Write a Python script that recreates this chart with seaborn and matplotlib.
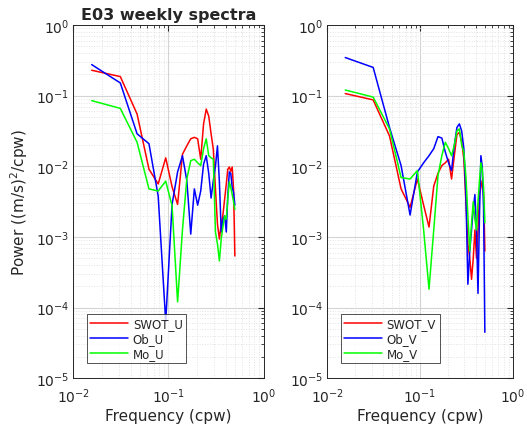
import numpy as np
import pandas as pd
import matplotlib
matplotlib.use("Agg")
import matplotlib.pyplot as plt
import seaborn as sns

# frequency grid (cpw)
freq = np.arange(1, 33) / 64.0

# log10 power, U component
swot_u = [-0.64, -0.73, -1.26, -2.04, -2.25, -1.88, -2.29, -2.54, -1.83, -1.71, -1.61, -1.59, -1.61, -1.90, -1.40, -1.19,
          -1.29, -1.54, -1.76, -2.32, -2.82, -3.03, -2.82, -2.68, -2.46, -2.25, -2.04, -2.01, -2.07, -2.01, -2.32, -3.27]
ob_u = [-0.56, -0.82, -1.54, -1.68, -2.42, -4.20, -2.54, -2.08, -1.85, -2.20, -2.96, -2.32, -2.55, -2.35, -1.97, -1.85,
        -2.10, -2.45, -2.20, -2.00, -1.71, -2.22, -2.93, -2.75, -2.70, -2.93, -2.40, -2.08, -2.10, -2.30, -2.37, -2.55]
mo_u = [-1.07, -1.18, -1.66, -2.32, -2.35, -2.21, -2.56, -3.92, -2.90, -2.18, -1.92, -1.90, -1.95, -1.99, -1.75, -1.61,
        -1.85, -1.88, -1.90, -2.93, -3.10, -3.34, -3.03, -2.85, -2.70, -2.75, -2.45, -2.22, -2.30, -2.40, -2.50, -2.61]

# V component
swot_v = [-0.97, -1.06, -1.57, -2.32, -2.58, -2.18, -2.55, -2.86, -2.28, -2.10, -1.99, -1.95, -1.90, -2.18, -1.85, -1.55,
          -1.52, -1.65, -1.90, -2.50, -3.10, -3.30, -3.60, -3.30, -2.90, -3.30, -2.90, -2.40, -2.30, -2.20, -2.40, -3.20]
ob_v = [-0.46, -0.60, -1.45, -1.99, -2.69, -2.08, -1.95, -1.85, -1.75, -1.58, -1.60, -1.80, -1.95, -2.06, -1.70, -1.45,
        -1.40, -1.50, -1.75, -2.40, -3.67, -3.20, -2.90, -2.60, -2.40, -2.90, -3.80, -2.70, -1.85, -2.00, -2.60, -4.35]
mo_v = [-0.92, -1.02, -1.47, -2.16, -2.18, -2.06, -2.90, -3.74, -2.90, -2.13, -1.85, -1.66, -1.75, -1.85, -1.70, -1.50,
        -1.47, -1.70, -1.80, -2.15, -2.70, -3.20, -2.80, -2.50, -2.75, -2.90, -2.50, -2.20, -1.95, -2.05, -2.30, -2.80]

colors = ["#ff0000", "#0000ff", "#00ff00"]


def make_df(series, names):
    frames = []
    for vals, name in zip(series, names):
        frames.append(pd.DataFrame({"freq": freq, "power": 10.0 ** np.array(vals), "name": name}))
    return pd.concat(frames, ignore_index=True)


sns.set_style("white")
plt.rcParams['font.family'] = ['DejaVu Sans']
fig = plt.figure(figsize=(5.27, 4.27), dpi=100)

panels = [
    ([0.139, 0.112, 0.361, 0.827], [swot_u, ob_u, mo_u], ["SWOT_U", "Ob_U", "Mo_U"]),
    ([0.621, 0.112, 0.352, 0.827], [swot_v, ob_v, mo_v], ["SWOT_V", "Ob_V", "Mo_V"]),
]

axes = []
for rect, series, names in panels:
    ax = fig.add_axes(rect)
    df = make_df(series, names)
    sns.lineplot(data=df, x="freq", y="power", hue="name", palette=colors,
                 hue_order=names, linewidth=1.1, ax=ax, sort=False, estimator=None)
    ax.set_xscale("log")
    ax.set_yscale("log")
    ax.set_xlim(1e-2, 1)
    ax.set_ylim(1e-5, 1)
    ax.grid(which="major", color="#d4d4d4", lw=0.8)
    ax.grid(which="minor", color="#e2e2e2", ls=":", lw=0.7)
    ax.set_axisbelow(True)
    ax.tick_params(which="both", direction="in", top=True, right=True, colors="#262626", labelsize=10)
    ax.tick_params(axis="x", which="major", pad=6)
    ax.tick_params(axis="y", which="major", pad=3)
    ax.tick_params(which="major", length=4)
    ax.tick_params(which="minor", length=2)
    for s in ax.spines.values():
        s.set_color("#262626")
        s.set_linewidth(0.7)
    ax.set_xlabel("Frequency (cpw)", fontsize=11, color="#262626", labelpad=2)
    ax.set_ylabel("")
    leg = ax.legend(loc="lower left", bbox_to_anchor=(0.04, 0.025), fontsize=8.5, handlelength=3.2,
                    frameon=True, fancybox=False, borderpad=0.3, labelspacing=0.15, handletextpad=0.4)
    leg.get_frame().set_edgecolor("#262626")
    leg.get_frame().set_linewidth(0.7)
    axes.append(ax)

axes[0].set_ylabel("Power ((m/s)$^2$/cpw)", fontsize=11, color="#262626")
axes[0].set_title("E03 weekly spectra", fontsize=11.5, fontweight="bold", pad=4)

fig.savefig("out.png", dpi=100)
